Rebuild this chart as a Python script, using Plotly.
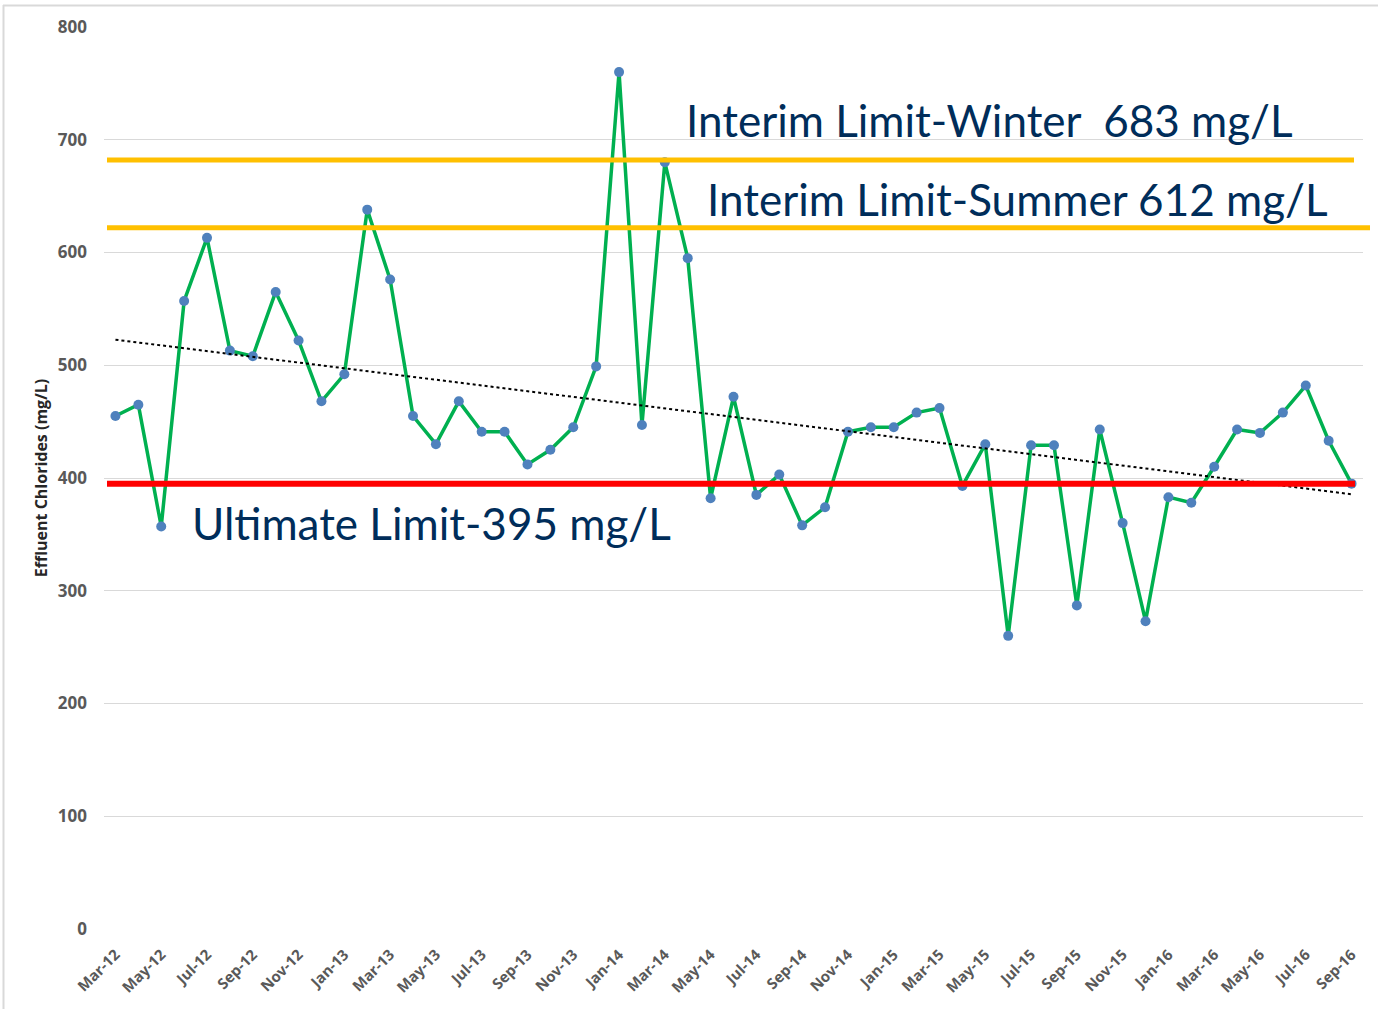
import numpy as np
import plotly.graph_objects as go

months = ["Mar-12","Apr-12","May-12","Jun-12","Jul-12","Aug-12","Sep-12","Oct-12","Nov-12","Dec-12",
          "Jan-13","Feb-13","Mar-13","Apr-13","May-13","Jun-13","Jul-13","Aug-13","Sep-13","Oct-13","Nov-13","Dec-13",
          "Jan-14","Feb-14","Mar-14","Apr-14","May-14","Jun-14","Jul-14","Aug-14","Sep-14","Oct-14","Nov-14","Dec-14",
          "Jan-15","Feb-15","Mar-15","Apr-15","May-15","Jun-15","Jul-15","Aug-15","Sep-15","Oct-15","Nov-15","Dec-15",
          "Jan-16","Feb-16","Mar-16","Apr-16","May-16","Jun-16","Jul-16","Aug-16","Sep-16"]

chlorides = [455, 465, 357, 557, 613, 513, 508, 565, 522, 468,
             492, 638, 576, 455, 430, 468, 441, 441, 412, 425, 445, 499,
             760, 447, 680, 595, 382, 472, 385, 403, 358, 374, 441, 445,
             445, 458, 462, 393, 430, 260, 429, 429, 287, 443, 360, 273,
             383, 378, 410, 443, 440, 458, 482, 433, 395]

winter_limit = 682
summer_limit = 622
ultimate_limit = 395

tick_vals = list(range(0, 801, 100))

xi = np.arange(len(chlorides))
slope, intercept = np.polyfit(xi, chlorides, 1)
trend = slope * xi + intercept

W, H = 1378, 1009
L, R, T, B = 104, 1363, 27, 929  # plot area in screenshot pixels
def px(x):
    return (x - L) / (R - L)
def py(y):
    return (B - y) / (B - T)

fig = go.Figure()
fig.add_trace(go.Scatter(x=months, y=chlorides, mode="lines+markers",
                         line=dict(color="#00B050", width=3.5),
                         marker=dict(color="#4F81BD", size=10),
                         showlegend=False))
fig.add_trace(go.Scatter(x=months, y=trend, mode="lines",
                         line=dict(color="#000000", width=2, dash="dot"),
                         showlegend=False))

shapes = [
    dict(type="line", xref="paper", yref="y", x0=px(107), x1=px(1354), y0=winter_limit, y1=winter_limit,
         line=dict(color="#FFC000", width=5), layer="above"),
    dict(type="line", xref="paper", yref="y", x0=px(107), x1=px(1370), y0=summer_limit, y1=summer_limit,
         line=dict(color="#FFC000", width=5), layer="above"),
    dict(type="line", xref="paper", yref="y", x0=px(107), x1=px(1355), y0=ultimate_limit, y1=ultimate_limit,
         line=dict(color="#FF0000", width=6), layer="above"),
    dict(type="line", xref="paper", yref="paper", x0=px(3.5), x1=px(3.5), y0=py(5), y1=py(1030),
         line=dict(color="#D9D9D9", width=2)),
    dict(type="line", xref="paper", yref="paper", x0=px(3), x1=px(1400), y0=py(5.5), y1=py(5.5),
         line=dict(color="#D9D9D9", width=2)),
]

ann_font = dict(family="Lato, Open Sans, sans-serif", size=44, color="#002D5A")
annotations = [
    dict(text="Interim Limit-Winter&nbsp;&nbsp;683 mg/L", xref="paper", yref="paper",
         x=px(684), y=py(120), xanchor="left", yanchor="middle", showarrow=False, font=ann_font),
    dict(text="Interim Limit-Summer 612 mg/L", xref="paper", yref="paper",
         x=px(705), y=py(199), xanchor="left", yanchor="middle", showarrow=False, font=ann_font),
    dict(text="Ultimate Limit-395 mg/L", xref="paper", yref="paper",
         x=px(190), y=py(523), xanchor="left", yanchor="middle", showarrow=False, font=ann_font),
]

tick_font_family = "Open Sans, sans-serif"

fig.update_layout(
    width=W, height=H,
    margin=dict(l=L, r=W - R, t=T, b=H - B, autoexpand=False),
    plot_bgcolor="white", paper_bgcolor="white",
    shapes=shapes, annotations=annotations,
    xaxis=dict(type="category", range=[-0.5, len(months) - 0.5], tickmode="array",
               tickvals=months[::2], ticktext=months[::2], tickangle=-45,
               showgrid=False, showline=False, ticks="", zeroline=False, ticklabelstandoff=13,
               tickfont=dict(family=tick_font_family, size=15, color="#595959", weight="bold")),
    yaxis=dict(range=[0, 800], tickvals=tick_vals, showgrid=True, gridcolor="#D9D9D9", gridwidth=1,
               zeroline=False, showline=False, ticks="", ticklabelstandoff=16,
               tickfont=dict(family=tick_font_family, size=17, color="#595959", weight="bold"),
               title=dict(text="Effluent Chlorides (mg/L)", standoff=6,
                          font=dict(family=tick_font_family, size=16, color="#262626", weight="bold"))),
)

fig.write_html("out.html", config={"displayModeBar": False},
               post_script="document.body.style.margin='0px';")
